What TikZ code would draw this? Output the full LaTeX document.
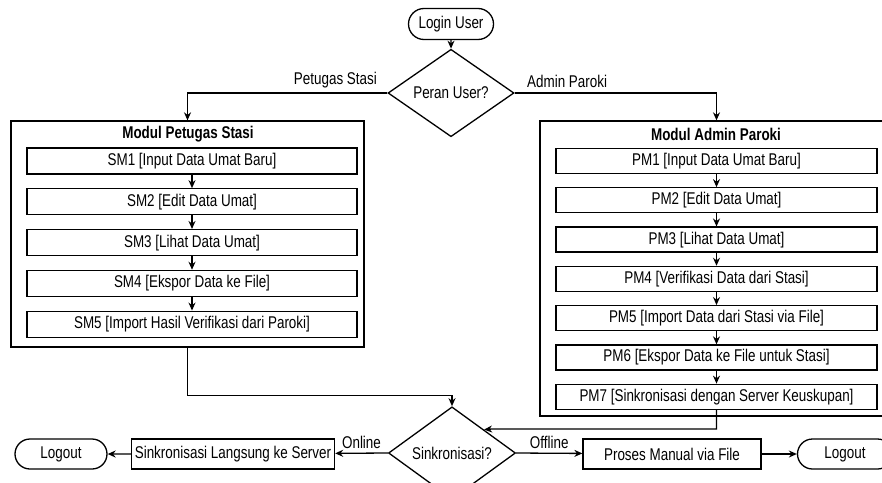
\documentclass[tikz,border=0pt]{standalone}
\usepackage{fontspec}
\setmainfont{Liberation Sans}[FakeStretch=0.79]
\usepackage{tikz}
\usetikzlibrary{calc,shapes.geometric,shapes.misc,chains,positioning,arrows.meta}

\begin{document}
\begin{tikzpicture}[x=1pt, y=-1pt, >={Stealth[length=8pt,width=7pt]}, line width=1.3pt, font=\fontsize{17}{20}\selectfont,
    term/.style={rounded rectangle, draw, minimum height=31pt, inner sep=0pt},
    decide/.style={diamond, draw, minimum width=126pt, minimum height=66pt, inner sep=0pt},
    task/.style={rectangle, draw, inner sep=0pt, on chain},
    modul/.style={rectangle, draw, inner sep=0pt}]
        \useasboundingbox (0,0) rectangle (882,482);
        % Nodes
        \node[term, minimum width=85pt] (login) at (451,24) {Login User};
        \node[decide] (peran) at (451,93) {Peran User?};
        \node[modul, minimum width=353pt, minimum height=226pt] (L) at (187.5,234) {};
        \node[modul, minimum width=360pt, minimum height=295pt] (R) at (720,268.5) {};
        \node at (188,134) {\bfseries Modul Petugas Stasi};
        \node at (716,134) {\bfseries Modul Admin Paroki};
        % Modul stasi
        \begin{scope}[start chain=sm going below, node distance=13.5pt, every node/.append style={minimum width=330pt, minimum height=26pt}]
        \node[task] (S1) at (192,161) {SM1 [Input Data Umat Baru]};
        \node[task] (S2) {SM2 [Edit Data Umat]};
        \node[task] (S3) {SM3 [Lihat Data Umat]};
        \node[task] (S4) {SM4 [Ekspor Data ke File]};
        \node[task] (S5) {SM5 [Import Hasil Verifikasi dari Paroki]};
        \end{scope}
        % Modul paroki
        \begin{scope}[start chain=pm going below, node distance=13pt, every node/.append style={minimum width=321pt, minimum height=25pt}]
        \node[task] (P1) at (716.5,161) {PM1 [Input Data Umat Baru]};
        \node[task] (P2) {PM2 [Edit Data Umat]};
        \node[task] (P3) {PM3 [Lihat Data Umat]};
        \node[task] (P4) {PM4 [Verifikasi Data dari Stasi]};
        \node[task] (P5) {PM5 [Import Data dari Stasi via File]};
        \node[task] (P6) {PM6 [Ekspor Data ke File untuk Stasi]};
        \node[task] (P7) {PM7 [Sinkronisasi dengan Server Keuskupan]};
        \end{scope}
        % Sinkronisasi
        \node[decide, minimum width=127pt, minimum height=64pt] (sync) at (452,453) {Sinkronisasi?};
        \node[rectangle, draw, minimum width=200pt, minimum height=30pt] (online) at (233,454) {Sinkronisasi Langsung ke Server};
        \node[rectangle, draw, minimum width=178pt, minimum height=30pt] (manual) at (672,454) {Proses Manual via File};
        \node[term, minimum width=92pt, minimum height=30pt] (outL) at (61,454) {Logout};
        \node[term, minimum width=95pt, minimum height=30pt] (outR) at (845,454) {Logout};
        \coordinate (kink) at (492,429);
        % Edges
        \draw[->] (login) -- (peran);
        \draw[->] (peran.west) -| (L.north) node[pos=0.13, above=1pt] {Petugas Stasi};
        \draw[->] (peran.east) -| (P1.north |- R.north) node[pos=0.13, above=1pt] {Admin Paroki};
        \draw[->] (S1) -- (S2);
        \draw[->] (S2) -- (S3);
        \draw[->] (S3) -- (S4);
        \draw[->] (S4) -- (S5);
        \draw[->] (P1) -- (P2);
        \draw[->] (P2) -- (P3);
        \draw[->] (P3) -- (P4);
        \draw[->] (P4) -- (P5);
        \draw[->] (P5) -- (P6);
        \draw[->] (P6) -- (P7);
        \draw[->] (L.south) -- ++(0,48) -| (sync.north);
        \draw[->] (P7.south) |- (kink) -- (sync.north east);
        \draw[->] (sync.west) -- (online) node[midway, above=1pt] {Online};
        \draw[->] (sync.east) -- (manual) node[midway, above=1pt] {Offline};
        \draw[->] (online) -- (outL);
        \draw[->] (manual) -- (outR);
    \end{tikzpicture}
\end{document}
